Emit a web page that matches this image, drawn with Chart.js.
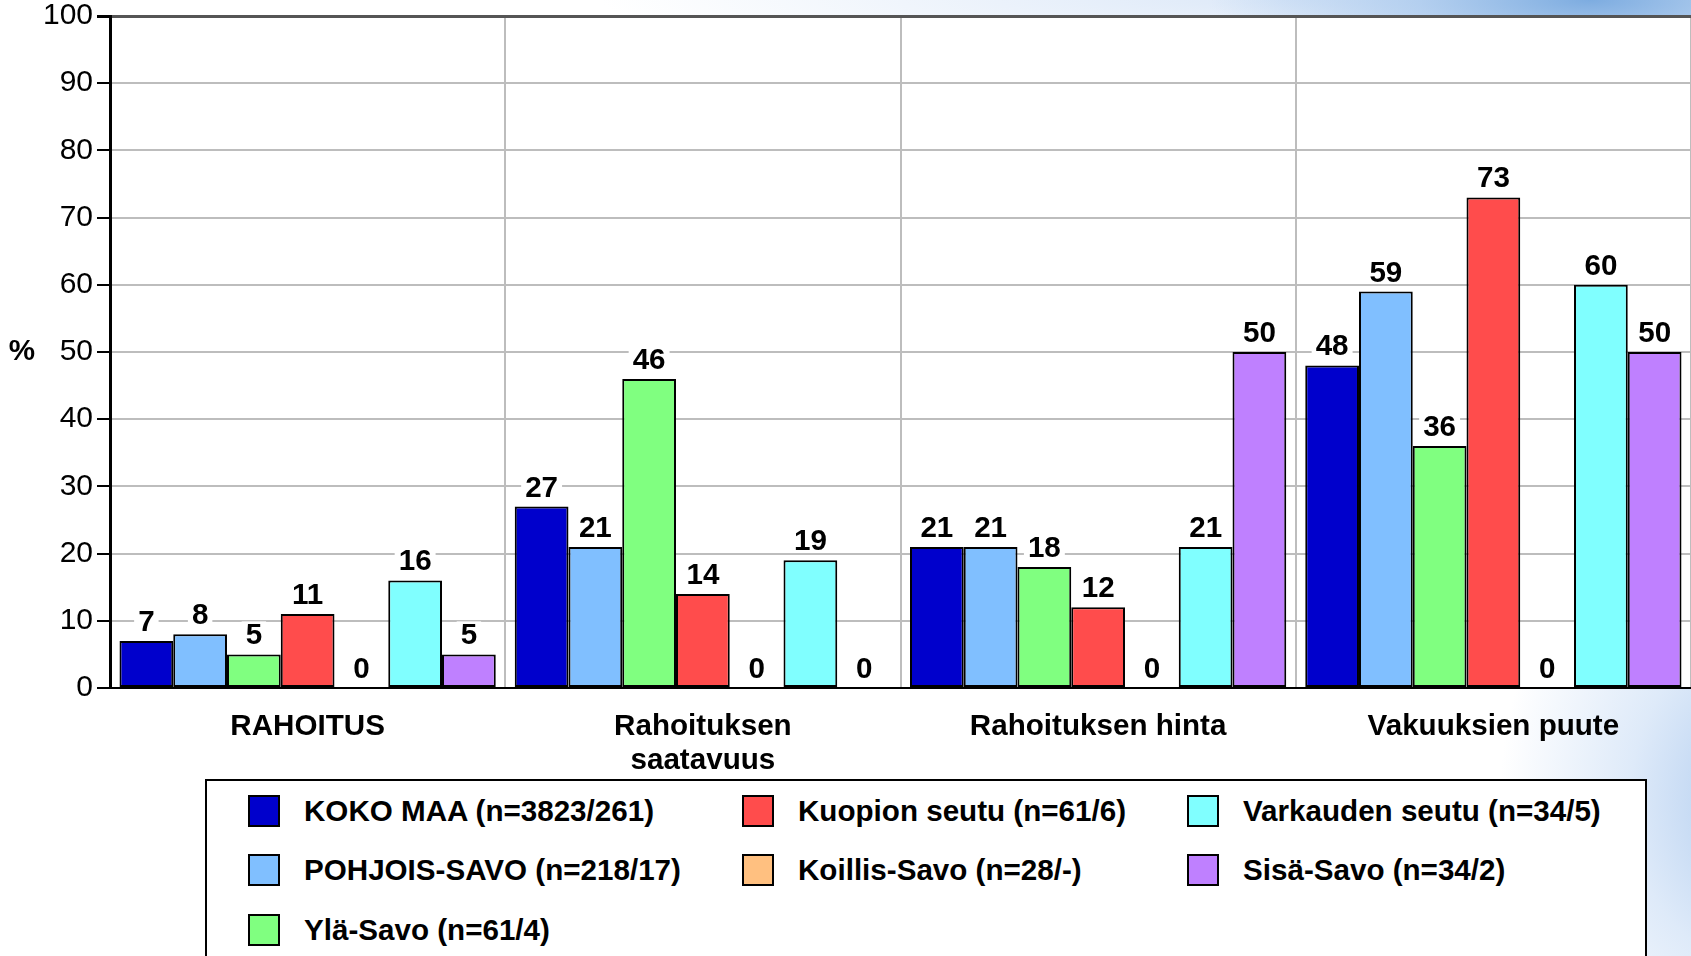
<!DOCTYPE html>
<html>
<head>
<meta charset="utf-8">
<script src="https://cdn.jsdelivr.net/npm/chart.js@4"></script>
<style>
  html, body { margin: 0; padding: 0; }
  body {
    width: 1691px; height: 956px; overflow: hidden; position: relative;
    font-family: 'Liberation Sans', Arial, sans-serif;
    background:
      radial-gradient(ellipse 380px 90px at 1590px 0px, rgba(125,172,224,1) 0%, rgba(160,195,235,0.7) 45%, rgba(255,255,255,0) 100%),
      radial-gradient(ellipse 700px 60px at 1300px 0px, rgba(220,232,248,1) 0%, rgba(255,255,255,0) 100%),
      radial-gradient(ellipse 260px 330px at 1760px 800px, rgba(170,200,238,0.95) 0%, rgba(200,220,245,0.6) 50%, rgba(255,255,255,0) 100%),
      #ffffff;
  }
  #wrap { position: absolute; left: 0; top: 0; }
  #legend {
    position: absolute; left: 205px; top: 779px; width: 1442px; height: 220px;
    border: 2px solid #000; background: #fff;
    display: grid;
    grid-template-rows: 59.5px 59.5px 59.5px;
    grid-template-columns: 494px 445px auto;
    padding-left: 41px; box-sizing: border-box;
  }
  .item { display: flex; align-items: center; }
  .sw { width: 28px; height: 28px; border: 2px solid #000; margin-right: 24px; }
  .lt { font-weight: bold; font-size: 29.6px; color: #000; white-space: nowrap; }
</style>
</head>
<body>
<div id="wrap"><canvas id="myChart" width="1691" height="956"></canvas></div>
<div id="legend"></div>
<script>
// categories and series
var categories = ['RAHOITUS', ['Rahoituksen', 'saatavuus'], 'Rahoituksen hinta', 'Vakuuksien puute'];
var seriesNames = [
    'KOKO MAA (n=3823/261)',
    'POHJOIS-SAVO (n=218/17)',
    'Ylä-Savo (n=61/4)',
    'Kuopion seutu (n=61/6)',
    'Koillis-Savo (n=28/-)',
    'Varkauden seutu (n=34/5)',
    'Sisä-Savo (n=34/2)'
];
var kokoMaa = [7, 27, 21, 48];
var pohjoisSavo = [8, 21, 21, 59];
var ylaSavo = [5, 46, 18, 36];
var kuopionSeutu = [11, 14, 12, 73];
var koillisSavo = [0, 0, 0, 0];
var varkaudenSeutu = [16, 19, 21, 60];
var sisaSavo = [5, 0, 50, 50];
var yMin = 0, yMax = 100, yStep = 10;

var seriesValues = [kokoMaa, pohjoisSavo, ylaSavo, kuopionSeutu, koillisSavo, varkaudenSeutu, sisaSavo];
var seriesColors = ['#0000CC', '#80BFFF', '#80FF80', '#FF4C4C', '#FFC080', '#80FFFF', '#BF80FF'];
// legend columns (series indexes), as in the original slide
var legendColumns = [[0, 1, 2], [3, 4], [5, 6]];

var FONT = "'Liberation Sans', Arial, sans-serif";

var datasets = seriesNames.map(function (name, i) {
    return {
        label: name,
        data: seriesValues[i],
        backgroundColor: seriesColors[i],
        borderColor: '#000',
        borderWidth: 2,
        borderSkipped: false
    };
});

// white plot background + "%" title + value labels
var extras = {
    id: 'extras',
    beforeDraw: function (chart) {
        var a = chart.chartArea, c = chart.ctx;
        c.save();
        c.fillStyle = '#fff';
        c.fillRect(a.left, a.top, a.right - a.left, a.bottom - a.top);
        c.restore();
    },
    afterDatasetsDraw: function (chart) {
        var c = chart.ctx;
        c.save();
        c.font = 'bold 29.6px ' + FONT;
        c.textAlign = 'center';
        c.textBaseline = 'alphabetic';
        chart.data.datasets.forEach(function (ds, i) {
            var meta = chart.getDatasetMeta(i);
            meta.data.forEach(function (bar, j) {
                var txt = String(ds.data[j]);
                var w = c.measureText(txt).width;
                var y = bar.y - 10;
                c.fillStyle = '#fff';
                c.fillRect(bar.x - w / 2 - 4, y - 23, w + 8, 25);
                c.fillStyle = '#000';
                c.fillText(txt, bar.x, y);
            });
        });
        var ys = chart.scales.y;
        c.textBaseline = 'middle';
        c.fillText('%', 22, ys.getPixelForValue(50));
        c.restore();
    }
};

var ctx = document.getElementById('myChart').getContext('2d');
var chart = new Chart(ctx, {
    type: 'bar',
    data: { labels: categories, datasets: datasets },
    options: {
        responsive: false,
        animation: false,
        devicePixelRatio: 1,
        layout: { padding: { top: 16, right: 0, left: 0, bottom: 0 } },
        datasets: { bar: { barPercentage: 1, categoryPercentage: 0.952 } },
        plugins: { legend: { display: false }, tooltip: { enabled: false } },
        scales: {
            x: {
                afterFit: function (s) { s.height = 268; },
                grid: { color: '#bdbdbd', lineWidth: 2, drawTicks: false, offset: true },
                border: { color: '#000', width: 2 },
                ticks: {
                    color: '#000', padding: 22, maxRotation: 0, autoSkip: false,
                    font: { family: FONT, size: 29.6, weight: 'bold', lineHeight: 1.15 }
                }
            },
            y: {
                min: yMin, max: yMax,
                afterFit: function (s) { s.width = 110; s.paddingTop = 0; s.paddingBottom = 0; },
                grid: {
                    color: function (c) { return c.tick && c.tick.value === yMax ? '#555' : '#bdbdbd'; },
                    lineWidth: function (c) { return c.tick && c.tick.value === yMax ? 3 : 2; },
                    tickColor: '#000', tickLength: 13
                },
                border: { color: '#000', width: 3 },
                ticks: {
                    stepSize: yStep, color: '#000', padding: 4,
                    font: { family: FONT, size: 30 }
                }
            }
        }
    },
    plugins: [extras]
});

// legend laid out column-wise like the original
var legend = document.getElementById('legend');
legendColumns.forEach(function (col, ci) {
    col.forEach(function (i, ri) {
        var item = document.createElement('div');
        item.className = 'item';
        item.style.gridColumn = String(ci + 1);
        item.style.gridRow = String(ri + 1);
        var sw = document.createElement('span');
        sw.className = 'sw';
        sw.style.background = seriesColors[i];
        var t = document.createElement('span');
        t.className = 'lt';
        t.textContent = seriesNames[i];
        item.appendChild(sw);
        item.appendChild(t);
        legend.appendChild(item);
    });
});
</script>
</body>
</html>
